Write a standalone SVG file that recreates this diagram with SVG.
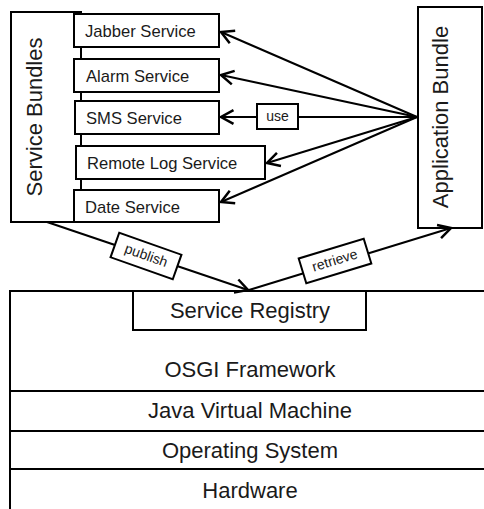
<svg xmlns="http://www.w3.org/2000/svg" width="484" height="509" viewBox="0 0 484 509">
<defs>
<marker id="arr" markerUnits="userSpaceOnUse" markerWidth="20" markerHeight="20" viewBox="-12 -8 14 16" refX="0" refY="0" orient="auto">
<path d="M-10,-5.5 L0,0 L-10,5.5" fill="none" stroke="#000" stroke-width="2"/>
</marker>
<style>
rect{fill:#fff;stroke:#000;stroke-width:2}
text{font-family:"Liberation Sans",Arial,sans-serif;fill:#1a1a1a}
.svc{font-size:16.6px}
.big{font-size:22px;text-anchor:middle}
.lbl{font-size:14px;text-anchor:middle}
.con{stroke:#000;stroke-width:2;fill:none}
</style>
</defs>
<g id="platform">
<rect x="10" y="291" width="490" height="240"/>
<line x1="10" y1="391" x2="484" y2="391" stroke="#000" stroke-width="2"/>
<line x1="10" y1="431" x2="484" y2="431" stroke="#000" stroke-width="2"/>
<line x1="10" y1="469" x2="484" y2="469" stroke="#000" stroke-width="2"/>
<text class="big" x="250" y="377">OSGI Framework</text>
<text class="big" x="250" y="418">Java Virtual Machine</text>
<text class="big" x="250" y="458">Operating System</text>
<text class="big" x="250" y="498">Hardware</text>
</g>
<g id="service-registry">
<rect x="133" y="291" width="233" height="39"/>
<text class="big" x="250" y="318">Service Registry</text>
</g>
<g id="service-bundles">
<rect x="11" y="12" width="70" height="210"/>
<text class="big" transform="translate(42,117) rotate(-90)">Service Bundles</text>
</g>
<g id="jabber">
<rect x="74" y="14" width="145" height="33"/>
<text class="svc" x="85" y="37">Jabber Service</text>
</g>
<g id="alarm">
<rect x="74" y="59" width="145" height="33"/>
<text class="svc" x="86" y="82">Alarm Service</text>
</g>
<g id="sms">
<rect x="75" y="101" width="144" height="33"/>
<text class="svc" x="86" y="124">SMS Service</text>
</g>
<g id="remotelog">
<rect x="76" y="146" width="189" height="33"/>
<text class="svc" x="87" y="169">Remote Log Service</text>
</g>
<g id="date">
<rect x="74" y="190" width="145" height="32"/>
<text class="svc" x="85" y="213">Date Service</text>
</g>
<g id="application-bundle">
<rect x="418" y="7" width="64" height="221"/>
<text class="big" transform="translate(448,117) rotate(-90)">Application Bundle</text>
</g>
<g id="connectors">
<line class="con" x1="417" y1="117" x2="221" y2="32" marker-end="url(#arr)"/>
<line class="con" x1="417" y1="117" x2="221" y2="75" marker-end="url(#arr)"/>
<line class="con" x1="417" y1="117" x2="221" y2="117" marker-end="url(#arr)"/>
<line class="con" x1="417" y1="117" x2="267" y2="163" marker-end="url(#arr)"/>
<line class="con" x1="417" y1="117" x2="221" y2="202" marker-end="url(#arr)"/>
<line class="con" x1="47" y1="222" x2="248" y2="290" marker-end="url(#arr)"/>
<line class="con" x1="249" y1="290" x2="451" y2="228" marker-end="url(#arr)"/>
<g id="use-label">
<rect x="257" y="104" width="41" height="25"/>
<text class="lbl" font-size="13" x="277.5" y="121">use</text>
</g>
<g id="publish-label" transform="translate(146,256) rotate(19.5)">
<rect x="-33" y="-13" width="66" height="26"/>
<text class="lbl" x="0" y="4">publish</text>
</g>
<g id="retrieve-label" transform="translate(335,261) rotate(-17)">
<rect x="-34" y="-13" width="68" height="26"/>
<text class="lbl" x="0" y="4">retrieve</text>
</g>
</g>
</svg>
